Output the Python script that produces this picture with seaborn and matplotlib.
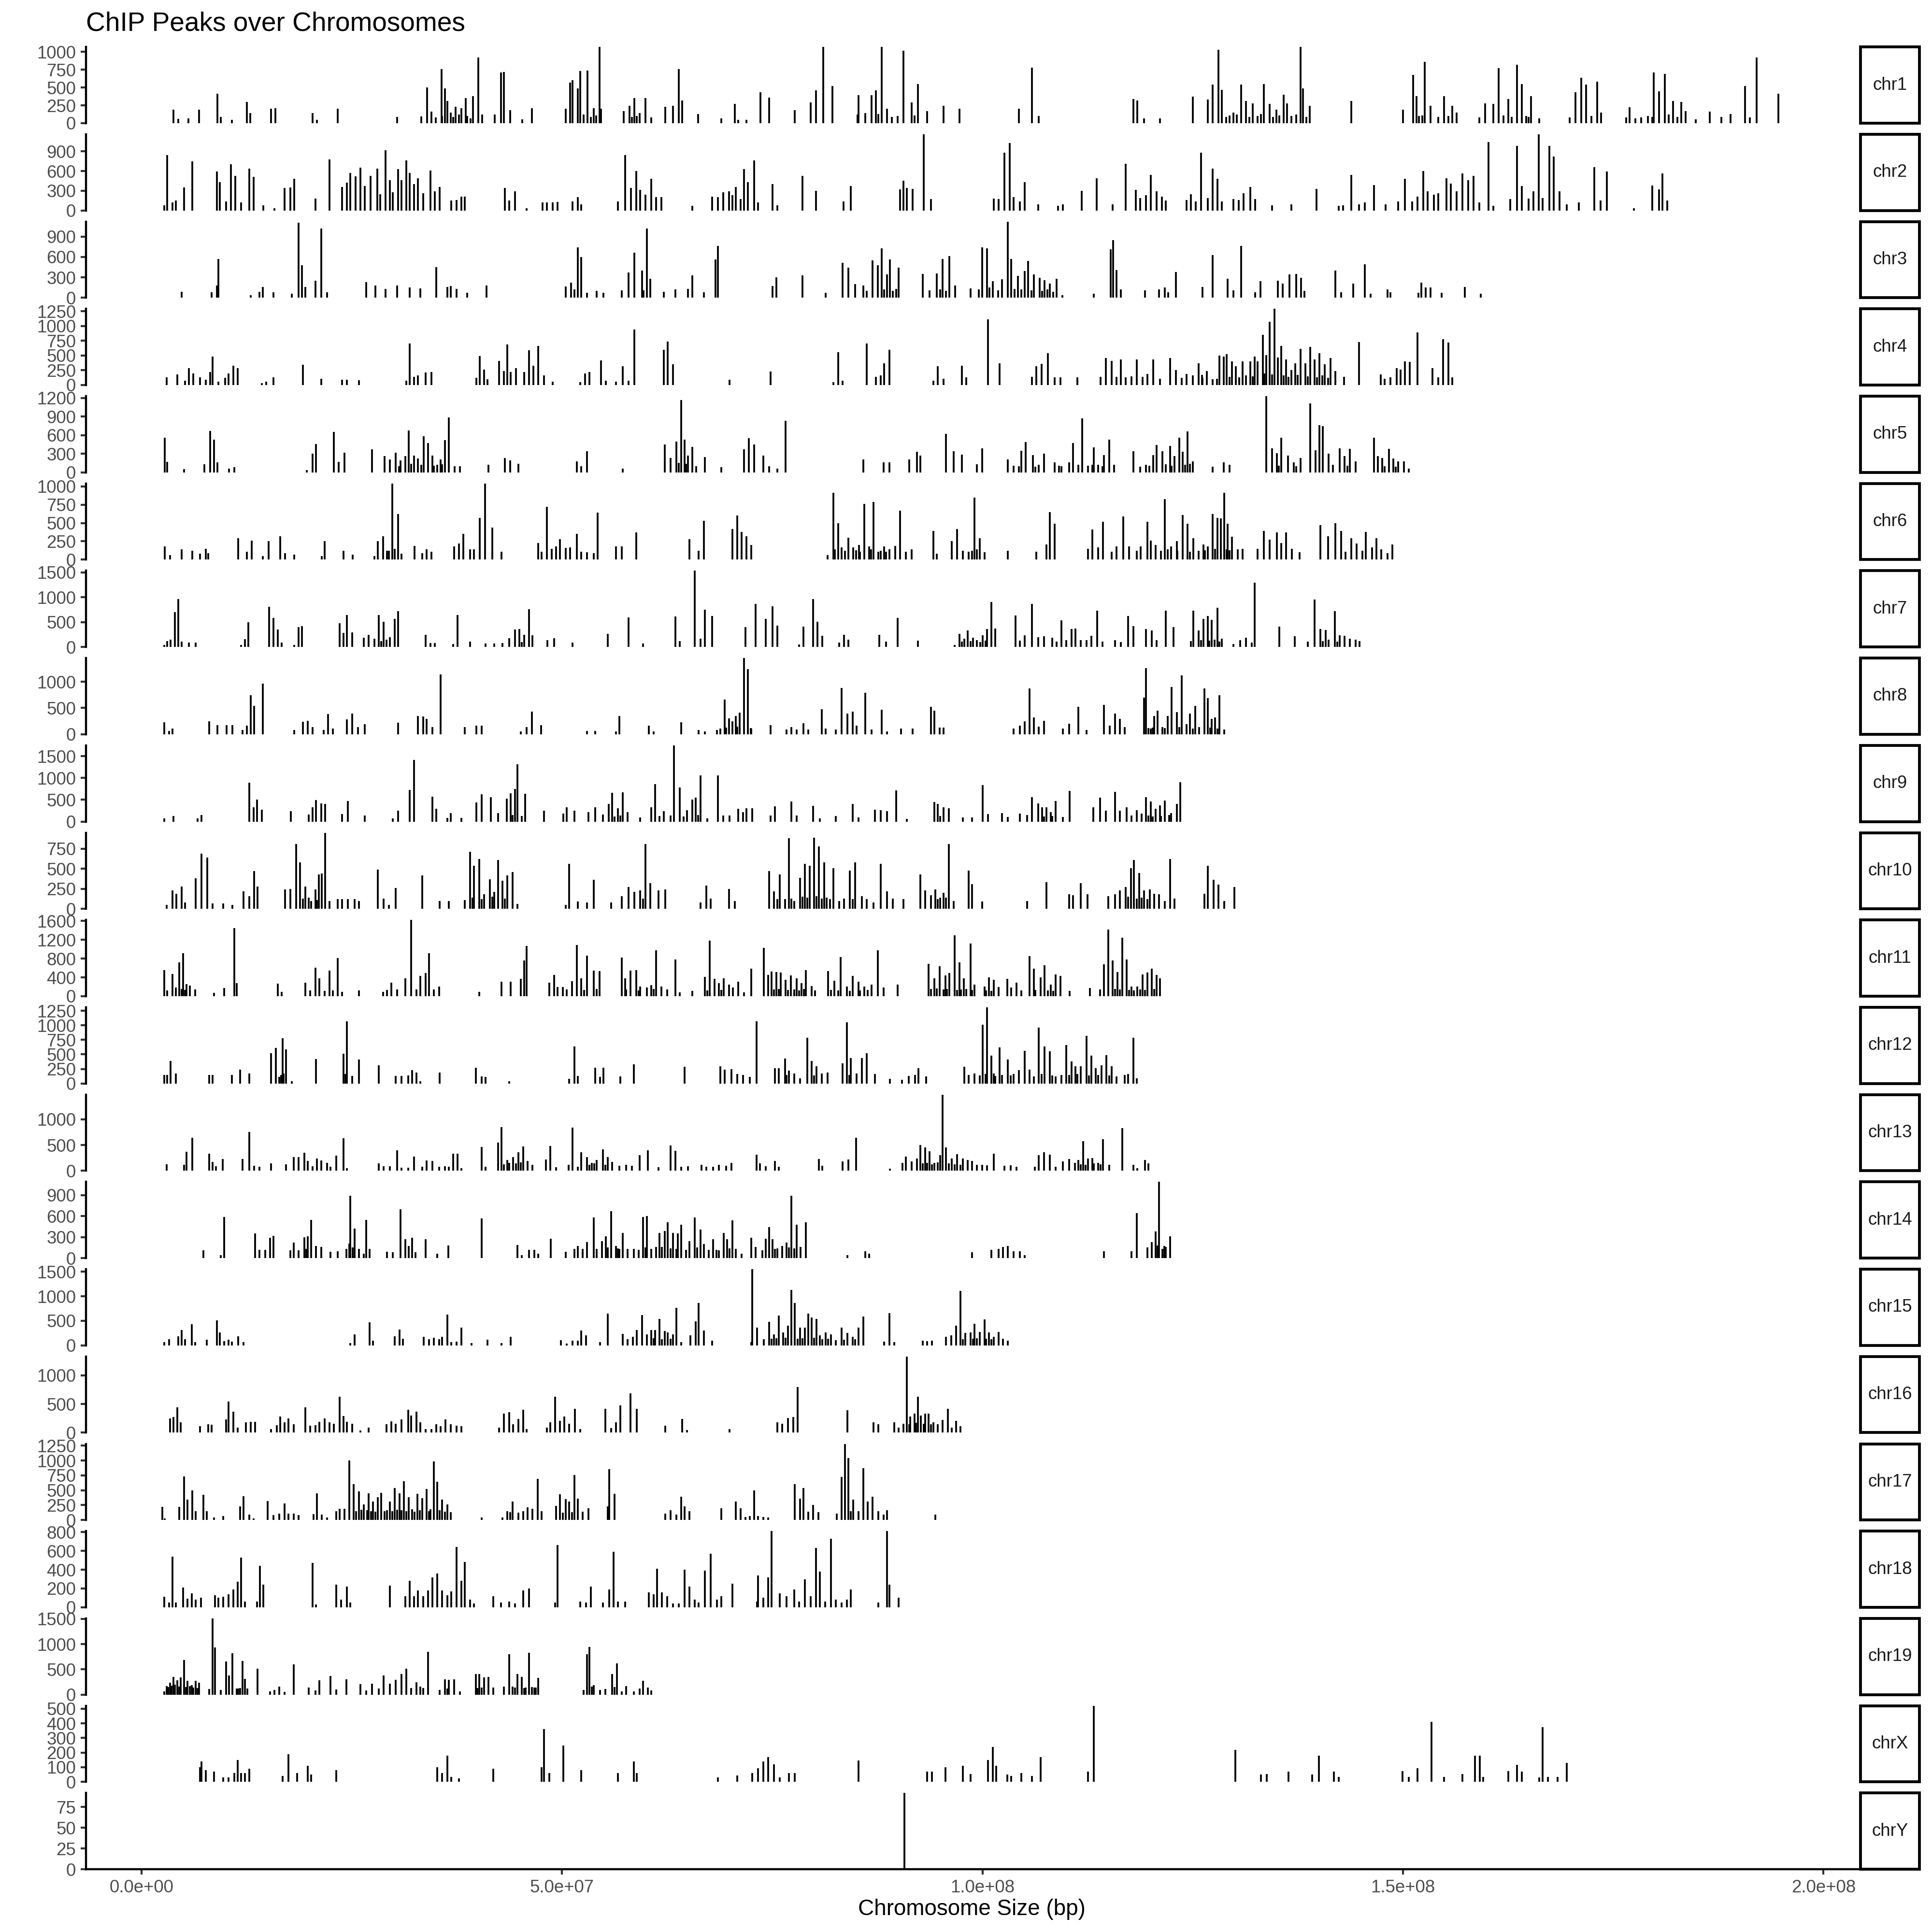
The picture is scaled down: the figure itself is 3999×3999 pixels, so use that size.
import seaborn as sns
import pandas as pd
import matplotlib.pyplot as plt
from matplotlib.patches import Rectangle

# peaks per chromosome: (position in Mb, peak score)
chr1_peaks = [(3.8, 190), (4.4, 60), (5.6, 70), (6.9, 190), (9.1, 410), (9.5, 90), (10.8, 45), (12.6, 300), (13.0, 140),
              (15.5, 200), (16.0, 210), (20.5, 140), (21.0, 45), (23.5, 200), (30.6, 90), (33.5, 95), (34.2, 500),
              (34.7, 160), (35.9, 760), (36.3, 490), (36.6, 310), (37.0, 150), (37.6, 230), (38.3, 210), (38.8, 350),
              (39.7, 380), (40.3, 920), (40.8, 120), (42.3, 120), (43.0, 710), (43.4, 720), (44.1, 180), (45.6, 55),
              (46.7, 210), (50.8, 200), (51.3, 570), (51.6, 600), (52.2, 490), (52.5, 730), (53.4, 740), (54.1, 210),
              (54.8, 1070), (55.0, 200), (57.7, 170), (58.4, 240), (59.0, 350), (59.6, 140), (60.3, 350), (61.0, 80),
              (62.7, 230), (63.6, 240), (64.3, 760), (64.7, 320), (66.6, 130), (69.4, 70), (71.0, 270), (71.4, 45),
              (72.4, 45), (74.1, 430), (75.1, 360), (78.2, 180), (80.1, 290), (80.7, 460), (81.6, 1070), (82.7, 520),
              (85.7, 120), (85.8, 390), (86.6, 140), (87.4, 390), (87.9, 460), (88.6, 1070), (89.2, 200), (91.2, 1020),
              (92.2, 290), (92.9, 550), (94.0, 170), (96.0, 240), (97.9, 200), (105.0, 200), (106.6, 780), (107.4, 100),
              (118.7, 340), (119.2, 320), (120.0, 70), (121.9, 70), (125.8, 370), (127.6, 330), (128.2, 540),
              (128.9, 1030), (129.3, 470), (130.7, 150), (131.6, 540), (132.2, 310), (133.0, 280), (134.3, 550),
              (135.0, 270), (135.8, 190), (136.7, 400), (137.1, 280), (138.7, 1070), (139.0, 490), (139.8, 240),
              (144.8, 310), (151.0, 190), (152.2, 680), (152.6, 380), (153.6, 860), (154.3, 240), (155.9, 380),
              (156.9, 240), (157.4, 150), (160.1, 80), (160.8, 280), (161.8, 270), (162.4, 770), (163.6, 340),
              (164.6, 820), (165.2, 550), (166.3, 380), (167.3, 70), (170.9, 80), (171.6, 430), (172.3, 640),
              (172.9, 540), (174.2, 580), (174.7, 150), (177.7, 80), (178.1, 220), (178.8, 70), (180.3, 100),
              (181.0, 710), (181.6, 450), (182.3, 690), (183.3, 310), (184.3, 300), (184.8, 170), (186.0, 50),
              (187.7, 160), (189.1, 90), (190.2, 130), (191.9, 520), (192.5, 80), (193.3, 920), (195.9, 410),
              (35.2, 80), (36.0, 100), (37.3, 90), (38.0, 120), (39.0, 100), (39.4, 70), (52.9, 120), (53.8, 90),
              (54.4, 110), (58.7, 90), (59.3, 100), (88.2, 130), (89.8, 90), (90.5, 100), (92.5, 110), (129.8, 90),
              (130.2, 110), (131.1, 120), (132.6, 90), (133.6, 100), (134.0, 130), (135.4, 90), (136.2, 110),
              (137.6, 100), (138.2, 120), (139.4, 90), (152.9, 100), (153.3, 110), (155.2, 90), (156.4, 100),
              (163.0, 110), (164.0, 90), (165.7, 100), (166.0, 90), (173.5, 100), (179.5, 80), (180.8, 90),
              (182.8, 120), (183.8, 90)]

chr2_peaks = [(2.7, 80), (3.1, 840), (3.7, 120), (4.1, 150), (5.1, 350), (6.1, 750), (9.0, 590), (9.4, 430), (10.1, 140),
              (10.7, 700), (11.2, 530), (11.9, 120), (12.9, 640), (13.4, 510), (14.6, 80), (15.9, 30), (17.1, 340),
              (17.8, 350), (18.3, 480), (20.8, 180), (22.5, 780), (24.0, 360), (24.6, 420), (25.0, 570), (25.6, 520),
              (26.2, 650), (26.7, 370), (27.4, 530), (28.2, 640), (28.6, 250), (29.2, 920), (29.7, 460), (30.1, 280),
              (30.7, 630), (31.1, 460), (31.7, 760), (32.1, 570), (32.6, 400), (33.1, 490), (33.7, 260), (34.6, 610),
              (35.1, 290), (35.7, 360), (37.1, 150), (37.7, 160), (38.3, 210), (38.7, 210), (43.5, 340), (44.0, 150),
              (44.7, 290), (46.1, 30), (48.0, 120), (48.5, 120), (49.2, 120), (49.8, 130), (51.6, 140), (52.2, 200),
              (52.6, 90), (57.0, 140), (57.9, 840), (58.6, 340), (59.2, 600), (59.7, 310), (60.3, 240), (61.0, 480),
              (61.6, 200), (62.2, 200), (65.9, 70), (68.3, 210), (69.0, 200), (69.6, 280), (70.3, 290), (70.7, 230),
              (71.1, 360), (71.7, 170), (72.1, 630), (72.6, 430), (73.3, 760), (73.8, 120), (75.5, 400), (76.1, 80),
              (79.1, 530), (80.7, 300), (84.0, 140), (84.9, 370), (90.8, 320), (91.2, 450), (91.6, 340), (92.3, 330),
              (93.6, 1160), (94.5, 170), (102.0, 180), (102.6, 170), (103.3, 880), (103.9, 1030), (104.4, 200),
              (105.1, 140), (105.7, 430), (107.3, 90), (109.7, 70), (110.3, 90), (112.5, 300), (114.3, 490),
              (116.2, 90), (117.8, 710), (119.0, 310), (119.5, 190), (120.2, 230), (120.8, 540), (121.5, 290),
              (122.1, 210), (122.6, 150), (125.1, 160), (125.6, 250), (126.2, 140), (126.8, 880), (127.6, 190),
              (128.2, 640), (128.8, 480), (129.3, 140), (130.7, 170), (131.3, 160), (131.9, 260), (132.7, 360),
              (133.3, 170), (135.3, 80), (137.6, 90), (140.6, 330), (143.3, 70), (143.8, 80), (144.8, 540),
              (145.7, 90), (146.4, 120), (147.5, 390), (148.9, 90), (150.4, 140), (151.2, 480), (152.1, 140),
              (152.7, 210), (153.4, 600), (153.9, 290), (154.7, 240), (155.2, 260), (156.2, 490), (156.7, 410),
              (157.4, 290), (158.1, 560), (158.8, 460), (159.4, 530), (160.1, 120), (161.2, 1040), (161.8, 70),
              (163.8, 170), (164.6, 980), (165.2, 370), (166.0, 180), (166.6, 290), (167.2, 1160), (167.7, 190),
              (168.5, 980), (169.0, 820), (169.7, 290), (170.6, 90), (172.0, 120), (173.9, 660), (174.6, 150),
              (175.4, 590), (178.6, 30), (180.8, 380), (181.6, 320), (182.0, 560), (182.6, 150)]

chr3_peaks = [(4.8, 85), (8.4, 80), (9.0, 180), (9.2, 570), (13.1, 35), (14.1, 90), (14.5, 160), (15.8, 80), (18.0, 60),
              (18.8, 1100), (19.2, 480), (19.6, 160), (20.8, 250), (21.5, 1020), (22.2, 80), (26.9, 230), (28.0, 180),
              (29.2, 130), (30.6, 180), (32.1, 150), (33.4, 140), (35.3, 450), (36.6, 160), (37.0, 170), (37.7, 130),
              (39.0, 70), (41.3, 180), (50.8, 165), (51.4, 220), (52.2, 740), (52.6, 600), (53.3, 75), (54.5, 100),
              (55.3, 70), (57.5, 110), (58.3, 370), (59.0, 660), (59.9, 400), (60.5, 1020), (60.9, 280), (62.5, 90),
              (63.9, 120), (65.4, 130), (65.9, 330), (67.3, 80), (68.7, 560), (69.0, 760), (75.5, 170), (76.0, 300),
              (79.1, 330), (81.9, 70), (83.9, 510), (84.6, 440), (85.4, 200), (86.4, 180), (87.5, 550), (88.1, 480),
              (88.6, 730), (89.2, 340), (89.6, 560), (90.6, 440), (93.5, 350), (94.3, 110), (95.2, 360), (95.9, 570),
              (96.7, 610), (97.4, 180), (99.2, 140), (100.6, 740), (101.2, 730), (101.9, 240), (103.0, 270),
              (103.7, 1120), (104.1, 570), (104.9, 320), (105.7, 390), (106.1, 540), (106.8, 340), (107.5, 290),
              (108.1, 260), (108.7, 210), (109.5, 280), (110.2, 40), (114.0, 60), (116.0, 710), (116.3, 850),
              (116.7, 410), (117.2, 120), (120.1, 110), (121.8, 120), (122.5, 150), (122.9, 80), (123.8, 380),
              (127.0, 160), (128.2, 630), (130.0, 280), (130.7, 110), (131.6, 760), (133.3, 80), (133.9, 240),
              (136.0, 250), (136.6, 210), (137.4, 340), (138.2, 350), (138.8, 290), (139.2, 100), (142.9, 400),
              (143.6, 80), (145.0, 210), (146.4, 490), (147.1, 60), (149.1, 120), (149.5, 80), (152.8, 70),
              (153.2, 220), (153.7, 150), (154.3, 150), (155.6, 70), (158.4, 160), (160.3, 60), (88.9, 120),
              (89.9, 100), (90.3, 130), (95.6, 120), (96.3, 100), (100.2, 120), (101.5, 150), (102.5, 110),
              (104.5, 130), (105.3, 120), (106.5, 110), (107.8, 100), (108.4, 120), (109.1, 90), (51.8, 120),
              (60.1, 110), (86.8, 100)]

chr4_peaks = [(3.0, 130), (4.3, 180), (5.2, 70), (5.7, 290), (6.2, 200), (7.0, 130), (7.7, 90), (8.2, 220), (8.5, 480),
              (9.2, 60), (10.0, 120), (10.4, 200), (11.0, 330), (11.5, 290), (14.4, 30), (14.9, 60), (15.8, 130),
              (19.3, 340), (21.5, 110), (24.0, 90), (24.6, 90), (26.0, 80), (31.7, 70), (32.1, 700), (32.6, 140),
              (33.1, 160), (34.0, 210), (34.7, 220), (40.1, 120), (40.5, 490), (41.0, 260), (41.4, 100), (42.8, 410),
              (43.4, 240), (43.8, 690), (44.2, 220), (44.8, 290), (45.8, 220), (46.4, 590), (46.9, 330), (47.5, 660),
              (48.2, 160), (49.2, 60), (52.5, 50), (53.1, 200), (53.6, 220), (55.0, 420), (55.6, 70), (56.8, 60),
              (57.6, 320), (58.3, 70), (59.0, 940), (62.5, 600), (63.0, 740), (63.6, 350), (70.4, 90), (75.3, 230),
              (82.8, 50), (83.4, 560), (83.9, 70), (86.8, 700), (87.9, 140), (88.5, 160), (88.9, 370), (89.5, 600),
              (94.8, 70), (95.3, 320), (96.0, 110), (98.2, 330), (98.7, 130), (101.3, 1110), (102.7, 370),
              (106.6, 140), (107.1, 320), (107.7, 360), (108.5, 540), (109.3, 130), (110.0, 130), (112.0, 130),
              (114.8, 140), (115.4, 460), (116.1, 410), (116.7, 140), (117.2, 430), (117.8, 130), (118.5, 150),
              (119.1, 430), (119.8, 140), (120.4, 190), (121.1, 430), (121.9, 110), (123.1, 460), (123.8, 250),
              (124.5, 120), (125.1, 190), (125.8, 160), (126.5, 370), (126.9, 170), (127.5, 240), (128.2, 100),
              (129.0, 500), (129.5, 480), (129.9, 520), (130.5, 400), (131.0, 320), (131.8, 400), (132.2, 160),
              (132.7, 400), (133.2, 480), (133.6, 400), (134.2, 850), (134.6, 510), (135.0, 1070), (135.6, 1290),
              (136.0, 470), (136.4, 660), (137.0, 430), (137.6, 250), (138.1, 370), (138.7, 610), (139.3, 370),
              (139.9, 650), (140.4, 430), (141.0, 540), (141.6, 350), (142.3, 460), (142.9, 240), (143.9, 140),
              (145.7, 730), (148.3, 180), (148.8, 110), (149.5, 130), (150.2, 290), (150.7, 260), (151.2, 400),
              (151.8, 390), (152.7, 890), (154.5, 290), (155.2, 130), (155.8, 780), (156.4, 720), (156.9, 130),
              (127.0, 120), (128.7, 110), (130.2, 140), (131.4, 130), (133.0, 150), (134.4, 200), (135.3, 180),
              (136.7, 160), (137.3, 140), (138.4, 170), (139.6, 150), (140.7, 130), (141.3, 160), (142.0, 120)]

chr5_peaks = [(2.8, 560), (3.1, 170), (5.1, 50), (7.5, 130), (8.2, 670), (8.7, 530), (9.1, 160), (10.5, 60), (11.1, 80),
              (19.8, 40), (20.5, 300), (20.9, 460), (23.0, 650), (23.6, 170), (24.3, 320), (27.6, 370), (29.1, 260),
              (29.7, 210), (30.4, 320), (31.0, 190), (31.6, 260), (32.0, 680), (32.6, 270), (33.1, 220), (33.8, 580),
              (34.3, 470), (34.8, 270), (35.4, 120), (35.8, 210), (36.3, 520), (36.8, 890), (37.5, 100), (38.1, 100),
              (41.5, 120), (43.5, 230), (44.1, 190), (45.1, 140), (52.1, 180), (52.6, 100), (53.3, 340), (57.6, 60),
              (62.6, 450), (63.3, 230), (64.0, 500), (64.6, 1170), (65.0, 530), (65.4, 270), (65.9, 410), (66.4, 100),
              (67.4, 250), (69.4, 80), (72.1, 370), (72.7, 550), (73.3, 450), (74.4, 270), (75.1, 100), (76.1, 60),
              (77.1, 830), (86.4, 210), (88.8, 160), (89.5, 160), (91.9, 210), (92.8, 330), (93.2, 270), (96.3, 620),
              (97.2, 340), (98.2, 290), (100.0, 130), (100.6, 390), (103.7, 210), (104.4, 110), (105.3, 350),
              (105.8, 490), (106.7, 280), (107.4, 120), (108.0, 300), (109.3, 160), (110.1, 100), (111.0, 160),
              (111.5, 470), (112.1, 120), (112.6, 870), (113.3, 110), (114.0, 400), (114.5, 120), (115.2, 280),
              (115.8, 530), (116.4, 120), (118.7, 340), (120.2, 120), (121.1, 280), (121.5, 440), (122.2, 340),
              (123.1, 430), (123.6, 260), (124.2, 560), (124.6, 330), (125.2, 660), (125.8, 180), (128.2, 90),
              (129.5, 160), (130.2, 120), (134.6, 1230), (135.3, 390), (135.9, 310), (136.4, 560), (137.2, 270),
              (137.9, 160), (138.7, 230), (139.9, 1110), (140.5, 360), (141.0, 760), (141.4, 750), (142.1, 300),
              (143.4, 390), (144.0, 260), (144.6, 380), (145.3, 180), (147.5, 560), (148.0, 260), (148.5, 230),
              (149.3, 380), (149.8, 220), (150.4, 180), (151.1, 180), (151.7, 60), (30.8, 100), (32.3, 140),
              (33.5, 120), (35.0, 110), (36.0, 130), (64.3, 150), (65.2, 140), (105.0, 100), (107.0, 90), (109.8, 110),
              (113.8, 120), (115.0, 100), (119.5, 90), (120.6, 110), (122.6, 130), (123.3, 110), (124.9, 120),
              (125.5, 140), (136.1, 110), (138.2, 100), (142.6, 120), (144.3, 110), (148.8, 100), (150.1, 90)]

chr6_peaks = [(2.8, 180), (3.4, 60), (4.8, 140), (6.1, 120), (7.0, 80), (7.7, 150), (8.0, 90), (11.6, 290), (12.6, 110),
              (13.2, 260), (14.5, 50), (15.2, 250), (16.6, 320), (17.2, 90), (18.3, 70), (21.6, 50), (21.9, 250),
              (24.2, 120), (25.3, 70), (27.9, 50), (28.3, 250), (28.9, 320), (29.4, 120), (30.0, 1040), (30.7, 620),
              (31.1, 80), (32.7, 190), (33.6, 90), (34.1, 140), (34.7, 110), (37.4, 180), (38.0, 220), (38.5, 350),
              (39.3, 140), (39.8, 140), (40.5, 570), (41.1, 1040), (42.0, 440), (43.1, 110), (47.5, 230), (47.9, 110),
              (48.5, 720), (49.1, 150), (49.6, 180), (50.1, 280), (50.8, 160), (51.3, 170), (52.1, 350), (52.6, 110),
              (53.3, 100), (54.1, 90), (54.6, 640), (56.8, 180), (57.5, 180), (59.2, 370), (65.6, 280), (66.7, 120),
              (67.3, 530), (70.7, 420), (71.3, 600), (71.8, 380), (72.4, 320), (73.0, 200), (82.1, 60), (82.8, 910),
              (83.4, 500), (83.8, 170), (84.6, 300), (85.2, 170), (85.9, 200), (86.5, 760), (87.1, 180), (87.6, 790),
              (88.2, 110), (88.9, 180), (89.5, 140), (90.2, 190), (90.8, 670), (91.5, 110), (92.2, 140), (94.8, 390),
              (95.2, 80), (97.0, 250), (97.6, 420), (98.3, 120), (99.0, 110), (99.7, 850), (100.3, 290), (100.9, 100),
              (103.7, 120), (107.1, 110), (108.3, 210), (108.7, 650), (109.3, 490), (113.3, 150), (113.8, 410),
              (114.5, 170), (115.1, 520), (116.1, 110), (116.7, 180), (117.5, 590), (118.2, 180), (119.1, 120),
              (119.6, 180), (120.4, 520), (120.8, 260), (121.4, 200), (122.0, 120), (122.5, 830), (123.2, 180),
              (123.9, 250), (124.6, 610), (125.2, 490), (125.9, 290), (126.5, 120), (127.1, 210), (127.6, 180),
              (128.2, 620), (128.8, 570), (129.2, 560), (129.6, 910), (130.0, 490), (130.5, 310), (131.2, 140),
              (131.8, 150), (133.6, 150), (134.3, 390), (135.0, 270), (135.9, 370), (136.4, 230), (137.0, 370),
              (137.7, 150), (138.6, 100), (141.1, 470), (142.0, 320), (142.9, 500), (143.6, 390), (144.1, 110),
              (144.8, 290), (145.4, 220), (146.1, 120), (146.5, 380), (147.3, 170), (147.8, 290), (148.4, 140),
              (149.1, 90), (149.7, 210), (29.6, 120), (30.3, 150), (83.0, 140), (84.2, 120), (85.5, 130), (86.0, 110),
              (87.3, 140), (88.5, 120), (89.1, 110), (99.4, 120), (100.0, 140), (122.8, 140), (124.0, 120),
              (125.5, 110), (127.3, 130), (128.5, 150), (129.9, 140), (130.2, 130)]

chr7_peaks = [(2.7, 40), (3.1, 120), (3.5, 150), (4.0, 700), (4.4, 960), (4.8, 110), (5.7, 90), (6.5, 90), (11.9, 40),
              (12.4, 160), (12.8, 500), (15.3, 810), (15.8, 580), (16.3, 350), (16.8, 90), (18.3, 40), (18.8, 400),
              (19.2, 420), (23.7, 480), (24.2, 280), (24.6, 640), (25.2, 290), (26.6, 190), (27.2, 240), (27.9, 170),
              (28.4, 640), (29.0, 510), (29.7, 200), (30.3, 560), (30.7, 720), (34.0, 240), (34.6, 80), (35.1, 80),
              (37.3, 60), (37.8, 640), (39.3, 110), (41.2, 70), (42.2, 70), (43.2, 80), (44.0, 180), (44.7, 350),
              (45.2, 360), (45.8, 240), (46.4, 760), (46.8, 230), (48.6, 140), (49.4, 180), (51.6, 90), (55.8, 260),
              (58.3, 590), (60.0, 70), (63.9, 610), (64.4, 120), (66.2, 1530), (66.9, 170), (67.4, 750), (68.3, 620),
              (72.3, 400), (73.5, 860), (74.7, 560), (75.5, 820), (76.1, 430), (78.7, 50), (79.2, 410), (80.4, 960),
              (80.9, 510), (81.5, 220), (83.5, 90), (84.1, 240), (84.6, 150), (88.3, 240), (89.1, 110), (90.5, 580),
              (92.9, 130), (97.3, 40), (97.9, 260), (98.5, 170), (98.9, 330), (99.5, 190), (100.0, 140), (100.7, 230),
              (101.2, 360), (101.7, 900), (102.2, 370), (104.6, 630), (105.1, 130), (105.7, 230), (106.6, 860),
              (107.3, 200), (108.0, 210), (109.0, 190), (109.5, 110), (110.1, 530), (110.7, 140), (111.3, 360),
              (111.8, 370), (112.4, 140), (113.1, 140), (113.7, 220), (114.4, 730), (115.0, 110), (116.5, 140),
              (117.2, 100), (118.1, 620), (118.7, 420), (120.2, 360), (120.9, 330), (121.5, 140), (122.6, 730),
              (123.5, 400), (125.9, 730), (126.5, 330), (127.1, 560), (127.6, 620), (128.1, 540), (128.8, 790),
              (129.3, 170), (130.7, 60), (131.5, 140), (132.2, 190), (132.9, 90), (133.2, 1290), (136.2, 410),
              (138.0, 210), (139.6, 110), (140.4, 950), (141.1, 360), (141.7, 340), (142.1, 150), (142.8, 720),
              (143.4, 230), (144.0, 220), (144.6, 170), (145.3, 150), (145.8, 120), (28.7, 120), (29.3, 150),
              (45.5, 100), (98.2, 110), (99.2, 120), (100.4, 100), (101.0, 130), (125.6, 120), (126.8, 140),
              (127.8, 130), (128.4, 150), (129.0, 110), (143.1, 110), (141.4, 120)]

chr8_peaks = [(2.7, 230), (3.3, 60), (3.7, 110), (8.1, 250), (9.1, 170), (10.2, 170), (10.9, 170), (12.1, 80), (12.6, 160),
              (13.1, 740), (13.5, 540), (14.5, 960), (18.3, 80), (19.3, 240), (19.9, 260), (20.5, 140), (21.8, 80),
              (22.3, 380), (22.9, 110), (24.6, 280), (25.2, 390), (25.9, 140), (26.7, 190), (30.7, 220), (33.1, 350),
              (33.7, 340), (34.1, 290), (34.8, 140), (35.8, 1140), (38.7, 140), (40.1, 160), (40.7, 160), (45.4, 50),
              (46.1, 140), (46.7, 430), (47.8, 170), (53.3, 60), (54.3, 60), (56.8, 50), (57.2, 350), (60.7, 160),
              (61.3, 50), (64.6, 230), (66.7, 80), (67.4, 50), (68.9, 80), (69.3, 110), (69.8, 660), (70.3, 300),
              (70.7, 250), (71.1, 350), (71.6, 410), (72.1, 1450), (72.6, 1240), (73.0, 110), (75.3, 170), (77.2, 90),
              (77.8, 140), (78.4, 90), (79.2, 210), (79.8, 90), (81.4, 480), (81.9, 110), (83.1, 90), (83.8, 880),
              (84.5, 390), (85.1, 430), (85.6, 160), (86.6, 790), (87.4, 90), (88.6, 470), (89.2, 50), (90.9, 110),
              (92.3, 110), (94.5, 520), (94.9, 450), (95.5, 130), (96.0, 130), (104.4, 110), (105.1, 160),
              (105.7, 250), (106.3, 870), (106.8, 320), (107.4, 150), (108.0, 260), (110.3, 110), (111.0, 200),
              (112.1, 520), (113.1, 80), (115.2, 560), (115.9, 160), (116.5, 390), (117.1, 290), (117.7, 140),
              (120.0, 700), (120.2, 1260), (120.8, 110), (121.2, 350), (121.6, 450), (122.2, 140), (122.8, 350),
              (123.3, 900), (123.9, 420), (124.5, 1120), (125.1, 190), (125.5, 390), (126.1, 540), (126.6, 140),
              (127.2, 870), (127.6, 690), (128.1, 290), (128.5, 320), (129.0, 740), (129.6, 90), (70.0, 130),
              (71.3, 150), (72.9, 120), (120.5, 120), (121.0, 130), (122.5, 120), (124.2, 140), (125.8, 110),
              (127.9, 130), (128.8, 110)]

chr9_peaks = [(2.7, 70), (3.8, 130), (6.7, 70), (7.2, 150), (12.9, 890), (13.4, 330), (13.8, 510), (14.4, 270), (17.9, 240),
              (20.0, 160), (20.5, 330), (20.9, 490), (21.5, 420), (22.0, 410), (24.0, 170), (24.7, 470), (26.7, 140),
              (30.1, 70), (30.7, 250), (32.1, 730), (32.6, 1420), (34.8, 570), (35.3, 290), (36.6, 80), (37.0, 200),
              (38.3, 80), (40.1, 440), (40.7, 630), (41.8, 560), (42.7, 190), (43.7, 530), (44.2, 650), (44.7, 750),
              (45.0, 1320), (45.9, 640), (48.2, 250), (50.5, 180), (50.9, 330), (51.8, 250), (53.5, 220), (54.3, 330),
              (55.2, 160), (55.9, 400), (56.3, 660), (57.0, 300), (57.6, 670), (58.2, 220), (59.7, 90), (61.0, 330),
              (61.5, 860), (62.5, 240), (63.3, 140), (63.7, 1750), (64.4, 780), (65.3, 260), (65.9, 510), (66.3, 550),
              (66.9, 1060), (67.7, 70), (69.0, 1060), (69.6, 140), (70.4, 140), (71.4, 290), (72.0, 220), (72.4, 310),
              (73.1, 300), (75.3, 140), (75.8, 350), (77.8, 460), (78.4, 140), (80.4, 360), (81.2, 70), (83.1, 130),
              (85.1, 400), (85.8, 90), (87.8, 270), (88.5, 260), (89.2, 240), (90.3, 720), (91.6, 60), (94.9, 450),
              (95.3, 410), (96.0, 330), (96.6, 310), (98.3, 90), (99.4, 100), (100.7, 840), (101.3, 170), (103.0, 190),
              (103.7, 110), (105.1, 180), (106.0, 150), (106.6, 560), (107.3, 420), (107.8, 330), (108.3, 330),
              (108.8, 220), (109.4, 470), (110.3, 110), (111.1, 700), (113.9, 330), (114.7, 550), (115.4, 250),
              (116.5, 680), (117.1, 250), (117.9, 330), (118.5, 140), (119.1, 260), (119.7, 180), (120.2, 560),
              (120.8, 460), (121.4, 290), (121.9, 370), (122.5, 480), (123.2, 200), (123.9, 400), (124.3, 910),
              (44.4, 150), (45.5, 130), (56.6, 120), (57.3, 140), (62.0, 130), (64.9, 120), (66.6, 150), (95.6, 130),
              (108.0, 120), (109.0, 130), (120.5, 140), (121.0, 120), (122.0, 130), (123.0, 150)]

chr10_peaks = [(3.0, 50), (3.7, 230), (4.2, 190), (4.8, 280), (5.2, 80), (6.5, 380), (7.2, 690), (7.9, 640), (8.5, 70),
               (9.8, 70), (10.9, 50), (12.2, 220), (12.9, 160), (13.5, 470), (13.9, 280), (17.2, 240), (17.8, 250),
               (18.5, 810), (19.0, 580), (19.6, 280), (20.3, 100), (20.8, 240), (21.2, 430), (21.6, 440), (22.0, 950),
               (22.5, 100), (23.5, 120), (24.0, 120), (24.7, 120), (25.5, 120), (26.0, 100), (28.3, 490), (29.0, 130),
               (29.6, 50), (30.4, 260), (33.6, 420), (35.7, 100), (36.8, 100), (38.7, 110), (39.3, 710), (39.8, 540),
               (40.4, 620), (41.0, 180), (41.7, 370), (42.2, 210), (42.7, 610), (43.2, 350), (43.8, 420), (44.4, 460),
               (45.0, 60), (50.8, 50), (51.2, 560), (52.2, 90), (53.3, 80), (54.1, 360), (56.2, 80), (57.5, 160),
               (58.3, 270), (59.0, 210), (59.7, 230), (60.3, 810), (60.9, 320), (61.9, 230), (62.7, 240), (66.9, 80),
               (67.6, 290), (68.1, 130), (70.3, 250), (71.0, 100), (75.1, 470), (75.7, 220), (76.4, 430), (77.0, 120),
               (77.5, 880), (78.1, 100), (78.8, 390), (79.4, 560), (80.0, 540), (80.5, 890), (81.1, 780), (81.7, 580),
               (82.4, 120), (82.8, 510), (83.5, 100), (84.1, 130), (84.8, 480), (85.4, 580), (86.2, 160), (86.8, 120),
               (87.6, 80), (88.5, 560), (89.2, 220), (89.9, 130), (91.2, 120), (93.2, 430), (93.8, 230), (94.5, 170),
               (95.0, 240), (95.6, 140), (96.0, 200), (96.6, 810), (97.2, 100), (99.0, 480), (99.4, 310), (100.6, 90),
               (106.0, 100), (108.3, 330), (111.0, 180), (111.5, 170), (112.4, 320), (113.2, 180), (115.7, 160),
               (116.5, 180), (117.1, 230), (117.8, 270), (118.4, 510), (118.8, 610), (119.4, 450), (120.0, 230),
               (120.7, 240), (121.2, 190), (121.8, 180), (122.5, 100), (123.1, 620), (123.6, 130), (127.2, 190),
               (127.6, 540), (128.3, 360), (128.9, 300), (129.6, 100), (130.8, 270), (19.3, 130), (20.0, 140),
               (21.0, 110), (39.6, 140), (40.7, 120), (42.0, 150), (43.5, 130), (60.0, 130), (76.1, 120), (77.8, 130),
               (79.1, 150), (79.7, 140), (80.8, 160), (81.4, 130), (82.0, 140), (85.1, 120), (95.3, 120), (96.3, 140),
               (118.1, 150), (119.1, 130), (119.7, 140), (120.4, 120)]

chr11_peaks = [(2.7, 550), (3.1, 120), (3.7, 470), (4.1, 180), (4.5, 720), (5.0, 910), (5.4, 260), (5.8, 230), (6.4, 140),
               (8.7, 70), (9.9, 170), (11.1, 1450), (11.4, 280), (16.3, 270), (16.8, 90), (19.6, 290), (20.2, 120),
               (20.8, 610), (21.3, 380), (21.9, 110), (22.5, 540), (22.9, 120), (23.5, 810), (24.0, 90), (26.0, 120),
               (28.9, 90), (29.4, 130), (29.9, 290), (30.6, 140), (31.6, 380), (32.3, 1620), (32.9, 140), (33.4, 430),
               (34.0, 490), (34.4, 910), (35.0, 140), (35.6, 210), (40.4, 90), (43.1, 310), (44.2, 310), (45.4, 370),
               (45.8, 760), (46.1, 1070), (48.8, 290), (49.4, 450), (49.8, 190), (50.4, 190), (50.9, 140), (51.5, 320),
               (52.1, 1090), (52.6, 380), (53.3, 860), (54.1, 540), (54.8, 530), (57.5, 820), (57.9, 380), (58.5, 540),
               (59.2, 550), (59.7, 210), (60.5, 180), (61.0, 240), (61.6, 980), (62.2, 210), (62.9, 140), (63.9, 780),
               (64.4, 80), (65.9, 110), (67.4, 410), (68.0, 1180), (68.6, 370), (69.1, 280), (69.7, 380), (70.3, 250),
               (70.8, 180), (71.4, 310), (72.1, 80), (73.0, 580), (74.5, 1030), (75.0, 450), (75.4, 520), (76.0, 510),
               (76.5, 500), (77.1, 350), (77.7, 440), (78.4, 380), (79.0, 280), (79.5, 550), (80.2, 220), (82.2, 530),
               (82.9, 330), (83.7, 830), (84.4, 210), (85.1, 430), (85.8, 310), (86.5, 210), (87.4, 250), (88.1, 980),
               (88.8, 180), (90.5, 250), (94.2, 690), (94.9, 380), (95.5, 640), (96.2, 440), (96.7, 490), (97.3, 1290),
               (97.9, 720), (98.4, 380), (99.2, 1120), (99.7, 250), (100.9, 210), (101.4, 400), (102.0, 350),
               (102.6, 190), (103.6, 370), (104.1, 180), (104.7, 290), (105.3, 120), (106.3, 850), (106.8, 590),
               (107.6, 400), (108.1, 660), (108.8, 250), (109.4, 460), (110.0, 430), (111.1, 110), (113.5, 170),
               (114.7, 140), (115.2, 680), (115.7, 1420), (116.2, 760), (116.8, 510), (117.4, 1240), (117.9, 780),
               (118.5, 210), (119.2, 210), (119.8, 460), (120.4, 500), (120.9, 580), (121.5, 450), (121.9, 380),
               (4.8, 150), (5.2, 130), (53.0, 130), (54.5, 150), (58.0, 140), (59.5, 120), (61.3, 150), (67.7, 120),
               (69.4, 130), (75.7, 140), (76.3, 150), (77.4, 130), (78.1, 140), (78.7, 120), (79.3, 150), (80.6, 120),
               (82.5, 130), (83.4, 120), (84.8, 110), (86.0, 120), (86.9, 130), (94.5, 150), (95.2, 160), (96.0, 140),
               (96.4, 150), (97.6, 130), (98.1, 140), (98.7, 150), (99.4, 130), (101.1, 120), (101.7, 110),
               (107.0, 130), (108.5, 120), (109.1, 110), (116.5, 150), (117.1, 140), (118.2, 130), (118.8, 120),
               (119.5, 140), (120.1, 130), (121.2, 150)]

chr12_peaks = [(2.7, 150), (3.1, 150), (3.5, 390), (4.1, 170), (8.1, 150), (8.5, 150), (10.8, 150), (11.8, 240), (12.9, 170),
               (15.5, 520), (16.1, 610), (16.5, 110), (16.9, 780), (17.3, 590), (18.0, 40), (20.9, 420), (24.2, 510),
               (24.6, 1070), (25.2, 130), (26.0, 410), (28.4, 310), (30.4, 130), (31.1, 130), (31.9, 140), (32.4, 230),
               (32.9, 190), (33.4, 40), (35.7, 190), (40.0, 270), (40.7, 120), (41.2, 110), (44.0, 40), (51.2, 80),
               (51.8, 640), (52.2, 130), (54.3, 270), (54.9, 110), (55.3, 270), (57.3, 120), (58.9, 330), (65.0, 290),
               (69.3, 300), (69.8, 240), (70.6, 250), (71.3, 160), (72.0, 150), (72.8, 110), (73.6, 1070), (75.8, 260),
               (76.3, 260), (77.0, 430), (77.5, 220), (78.1, 170), (78.8, 90), (79.7, 790), (80.2, 390), (80.8, 300),
               (81.4, 170), (82.1, 190), (83.9, 350), (84.4, 1050), (84.9, 440), (85.6, 170), (86.2, 440), (86.8, 520),
               (87.8, 160), (89.6, 80), (91.0, 60), (91.8, 130), (92.6, 150), (93.0, 260), (93.9, 120), (98.5, 290),
               (99.0, 150), (99.7, 170), (100.3, 140), (100.7, 1010), (101.2, 1310), (101.7, 480), (102.2, 130),
               (102.7, 620), (103.7, 410), (104.4, 160), (105.0, 230), (105.7, 560), (106.3, 240), (106.8, 120),
               (107.4, 960), (108.1, 640), (108.7, 550), (109.4, 120), (110.1, 150), (110.7, 660), (111.3, 380),
               (111.8, 300), (112.4, 300), (113.1, 820), (113.7, 480), (114.2, 260), (114.9, 310), (115.5, 490),
               (116.1, 300), (116.7, 120), (117.7, 150), (118.1, 160), (118.7, 790), (119.1, 90), (16.7, 150),
               (17.0, 170), (24.4, 160), (77.2, 150), (80.5, 140), (84.7, 150), (101.0, 160), (102.0, 170), (103.0, 150),
               (104.0, 140), (107.7, 160), (109.0, 140), (111.0, 150), (112.0, 160), (113.4, 140), (114.5, 150),
               (115.8, 140)]

chr13_peaks = [(3.0, 130), (5.1, 120), (5.4, 370), (6.1, 640), (8.1, 330), (8.5, 170), (8.9, 90), (9.7, 230), (12.1, 230),
               (12.9, 750), (13.5, 100), (14.1, 80), (15.5, 140), (17.3, 130), (18.2, 270), (18.8, 270), (19.5, 350),
               (19.9, 190), (20.5, 90), (21.0, 240), (21.5, 200), (22.2, 150), (22.6, 80), (23.3, 290), (24.2, 630),
               (24.6, 50), (28.4, 140), (29.0, 90), (29.7, 90), (30.6, 400), (31.1, 60), (31.9, 60), (32.6, 280),
               (33.6, 80), (34.1, 200), (34.8, 190), (35.6, 80), (36.3, 90), (36.8, 80), (37.3, 330), (37.8, 330),
               (38.3, 50), (40.7, 460), (41.2, 80), (42.7, 550), (43.1, 850), (43.8, 210), (44.5, 270), (45.1, 360),
               (45.7, 470), (46.2, 190), (46.8, 120), (48.4, 220), (48.9, 480), (49.6, 70), (51.1, 120), (51.6, 840),
               (52.2, 80), (52.6, 360), (53.3, 270), (53.9, 150), (54.5, 210), (55.2, 420), (55.8, 270), (56.3, 170),
               (57.2, 100), (58.0, 120), (58.7, 100), (59.6, 300), (60.6, 400), (61.9, 70), (63.3, 490), (63.9, 390),
               (64.6, 80), (65.4, 90), (67.0, 120), (67.6, 80), (68.4, 80), (69.1, 120), (70.0, 100), (70.6, 150),
               (73.6, 310), (74.0, 140), (74.7, 90), (75.8, 190), (76.3, 80), (81.1, 230), (81.5, 100), (83.9, 180),
               (84.6, 220), (85.5, 640), (89.6, 40), (91.1, 150), (91.5, 280), (92.2, 180), (92.8, 240), (93.2, 500),
               (93.8, 450), (94.3, 380), (94.9, 150), (95.6, 300), (95.9, 1480), (96.3, 450), (97.0, 240), (97.6, 320),
               (98.3, 240), (98.9, 210), (99.4, 190), (100.0, 120), (100.6, 120), (101.2, 110), (102.0, 330),
               (103.3, 100), (104.0, 110), (104.7, 80), (106.9, 80), (107.4, 300), (108.0, 360), (108.7, 310),
               (109.4, 80), (110.3, 180), (111.0, 230), (111.7, 150), (112.1, 210), (112.7, 580), (113.3, 240),
               (113.8, 250), (114.5, 150), (115.1, 610), (115.8, 120), (117.4, 830), (118.7, 120), (119.2, 50),
               (120.1, 210), (120.5, 140), (43.4, 130), (44.0, 150), (44.8, 140), (45.4, 160), (53.6, 120), (54.2, 140),
               (55.5, 120), (93.5, 140), (94.0, 150), (94.6, 130), (95.3, 160), (96.6, 140), (97.3, 130), (98.0, 120),
               (112.4, 130), (113.0, 120), (114.0, 140), (114.8, 130)]

chr14_peaks = [(7.4, 110), (9.5, 40), (9.9, 590), (13.6, 350), (14.1, 120), (14.8, 120), (15.4, 290), (15.8, 320), (17.8, 110),
               (18.2, 220), (18.8, 110), (19.5, 300), (19.9, 310), (20.3, 550), (20.9, 170), (21.5, 160), (22.6, 90),
               (23.5, 100), (24.5, 130), (24.9, 210), (25.0, 890), (25.5, 420), (26.0, 130), (26.6, 60), (26.9, 550),
               (27.3, 130), (29.4, 90), (30.1, 80), (31.0, 700), (31.6, 270), (32.0, 170), (32.4, 290), (32.8, 80),
               (34.0, 270), (35.4, 60), (36.7, 180), (40.7, 570), (45.0, 190), (45.5, 40), (46.4, 120), (47.0, 120),
               (47.5, 60), (49.0, 280), (50.8, 90), (51.8, 130), (52.2, 170), (52.8, 130), (53.3, 230), (54.1, 580),
               (54.5, 130), (55.1, 240), (55.6, 310), (56.2, 670), (56.8, 170), (57.2, 130), (57.6, 360), (58.2, 130),
               (58.9, 130), (59.5, 120), (60.0, 590), (60.5, 600), (61.0, 130), (61.6, 160), (62.0, 360), (62.6, 390),
               (63.0, 510), (63.6, 360), (64.2, 350), (64.6, 480), (65.2, 120), (65.6, 240), (66.2, 580), (66.9, 410),
               (67.3, 200), (67.9, 120), (68.4, 270), (69.1, 110), (69.7, 360), (70.1, 270), (70.7, 540), (71.1, 130),
               (71.8, 60), (73.0, 290), (73.5, 160), (74.3, 110), (74.7, 280), (75.1, 440), (75.5, 270), (76.1, 140),
               (76.7, 170), (77.2, 220), (77.8, 890), (78.4, 480), (78.9, 160), (79.5, 510), (84.5, 40), (86.6, 100),
               (87.1, 60), (99.4, 80), (101.7, 120), (102.6, 130), (103.1, 160), (103.7, 170), (104.4, 100),
               (105.1, 100), (105.7, 40), (115.2, 100), (118.5, 100), (119.1, 640), (120.4, 150), (120.9, 230),
               (121.4, 380), (121.8, 1090), (122.2, 130), (122.6, 160), (123.1, 310), (19.7, 130), (25.3, 150),
               (55.8, 150), (57.0, 140), (60.3, 150), (62.3, 160), (63.3, 140), (64.0, 130), (66.5, 150), (68.8, 120),
               (70.4, 140), (75.8, 130), (77.5, 150), (78.1, 140), (121.6, 180), (122.4, 170)]

chr15_peaks = [(2.7, 70), (3.3, 130), (4.4, 180), (4.8, 310), (5.2, 130), (6.0, 430), (6.4, 70), (7.8, 120), (9.0, 510),
               (9.4, 260), (9.9, 90), (10.4, 120), (10.8, 80), (11.6, 180), (12.2, 70), (25.0, 50), (25.5, 220),
               (27.3, 470), (27.7, 100), (30.3, 180), (30.9, 320), (31.3, 140), (33.8, 170), (34.4, 130), (35.0, 160),
               (35.6, 130), (36.0, 170), (36.6, 630), (37.1, 70), (37.7, 80), (38.3, 360), (39.5, 50), (41.4, 120),
               (43.1, 50), (44.2, 170), (50.2, 110), (50.9, 40), (51.6, 100), (52.2, 100), (52.6, 300), (53.2, 200),
               (54.9, 70), (55.8, 650), (57.6, 230), (58.2, 130), (58.8, 170), (59.3, 310), (59.9, 620), (60.5, 220),
               (61.0, 310), (61.5, 310), (62.0, 540), (62.6, 290), (63.0, 260), (63.6, 220), (64.0, 760), (64.6, 70),
               (65.7, 200), (66.3, 490), (66.7, 860), (67.3, 300), (68.3, 100), (73.0, 70), (73.1, 1550), (73.7, 360),
               (74.5, 130), (75.1, 480), (75.7, 220), (76.3, 610), (76.8, 260), (77.4, 400), (77.8, 1130), (78.2, 860),
               (78.8, 360), (79.4, 360), (79.8, 650), (80.2, 570), (80.8, 540), (81.2, 200), (81.9, 260), (82.5, 220),
               (83.1, 110), (83.8, 360), (84.5, 250), (85.1, 170), (85.8, 360), (86.4, 590), (88.9, 80), (89.5, 660),
               (90.1, 70), (93.5, 100), (94.0, 90), (94.6, 100), (96.3, 170), (96.9, 200), (97.5, 400), (98.0, 1110),
               (98.6, 250), (99.2, 260), (99.7, 440), (100.3, 270), (100.9, 530), (101.4, 260), (102.0, 170),
               (102.6, 270), (103.1, 140), (103.7, 100), (61.3, 150), (62.3, 130), (63.3, 140), (75.4, 140), (76.0, 150),
               (77.1, 160), (78.5, 140), (79.1, 150), (80.5, 160), (81.5, 130), (82.2, 140), (84.1, 120), (85.4, 130),
               (98.3, 130), (99.5, 140), (100.0, 150), (101.1, 140), (101.7, 130)]

chr16_peaks = [(3.4, 250), (3.8, 270), (4.3, 440), (4.7, 180), (7.0, 110), (8.0, 150), (8.4, 140), (10.1, 230), (10.4, 540),
               (11.0, 370), (11.5, 90), (12.5, 180), (13.1, 190), (13.6, 190), (15.5, 60), (16.2, 130), (16.6, 280),
               (17.1, 180), (17.6, 250), (18.2, 150), (19.6, 440), (20.2, 120), (20.8, 130), (21.3, 190), (21.9, 250),
               (22.5, 180), (23.0, 160), (23.7, 630), (24.2, 290), (24.6, 190), (25.2, 160), (26.2, 40), (27.2, 90),
               (29.3, 150), (29.9, 200), (30.4, 160), (31.1, 230), (31.9, 400), (32.3, 300), (32.9, 370), (33.4, 180),
               (34.0, 60), (34.7, 60), (35.3, 150), (35.8, 110), (36.4, 230), (37.0, 150), (37.7, 120), (38.3, 110),
               (42.8, 90), (43.4, 330), (44.0, 360), (44.5, 150), (45.1, 240), (45.7, 400), (46.1, 60), (48.5, 90),
               (48.9, 180), (49.5, 630), (50.1, 210), (50.6, 280), (51.2, 160), (51.9, 420), (52.5, 60), (55.5, 420),
               (56.2, 80), (56.8, 180), (57.3, 480), (58.5, 690), (59.3, 420), (62.7, 120), (64.7, 240), (65.3, 50),
               (70.4, 60), (76.1, 180), (76.7, 160), (77.4, 260), (78.0, 270), (78.5, 800), (84.5, 390), (87.6, 180),
               (88.2, 150), (90.1, 180), (90.6, 90), (91.2, 160), (91.6, 1330), (92.0, 280), (92.5, 330), (92.9, 630),
               (93.3, 300), (93.8, 330), (94.2, 330), (94.8, 180), (95.3, 150), (95.9, 220), (96.5, 420), (97.0, 90),
               (97.5, 210), (98.0, 110), (91.9, 150), (92.7, 170), (93.6, 160), (94.5, 150)]

chr17_peaks = [(2.5, 220), (2.8, 30), (4.5, 220), (5.1, 730), (5.5, 340), (6.1, 500), (6.5, 150), (7.4, 420), (7.8, 150),
               (8.7, 40), (9.8, 70), (11.8, 230), (12.2, 400), (12.9, 90), (13.4, 30), (15.1, 320), (15.8, 80),
               (16.5, 110), (17.1, 280), (17.6, 110), (18.2, 110), (18.8, 80), (20.6, 100), (21.0, 450), (21.6, 90),
               (22.2, 40), (23.3, 150), (23.7, 190), (24.3, 190), (24.9, 1000), (25.4, 600), (26.0, 480), (26.6, 260),
               (27.2, 450), (27.7, 310), (28.3, 380), (28.7, 460), (29.1, 150), (29.7, 310), (30.3, 540), (30.9, 450),
               (31.4, 650), (32.0, 380), (32.4, 180), (33.0, 440), (33.6, 370), (34.1, 520), (34.6, 180), (35.0, 980),
               (35.4, 640), (36.0, 340), (36.6, 260), (37.0, 130), (40.7, 40), (43.2, 40), (43.8, 150), (44.4, 310),
               (45.1, 120), (45.7, 150), (46.2, 210), (46.8, 190), (47.4, 690), (47.9, 150), (49.6, 240), (50.1, 430),
               (50.8, 350), (51.2, 310), (51.8, 760), (52.2, 360), (52.8, 140), (53.5, 200), (55.8, 230), (56.0, 850),
               (56.6, 440), (62.7, 110), (63.3, 160), (64.0, 90), (64.6, 390), (65.0, 230), (65.6, 150), (69.4, 200),
               (71.1, 310), (71.7, 200), (72.3, 50), (72.8, 70), (73.3, 500), (73.8, 70), (74.4, 50), (75.0, 40),
               (78.2, 600), (78.8, 360), (79.2, 540), (79.8, 140), (80.4, 250), (81.0, 130), (83.2, 110), (83.8, 720),
               (84.2, 1280), (84.6, 1040), (85.2, 340), (85.8, 150), (86.4, 870), (86.9, 310), (87.5, 390),
               (88.2, 150), (88.8, 90), (89.2, 160), (95.0, 90), (25.7, 150), (26.3, 170), (27.0, 160), (27.5, 150),
               (28.0, 140), (29.4, 160), (30.0, 150), (30.6, 170), (31.1, 160), (31.7, 150), (32.7, 140), (33.3, 160),
               (34.4, 150), (35.7, 160), (36.3, 140), (44.1, 130), (50.4, 120), (51.5, 130), (84.9, 150)]

chr18_peaks = [(2.7, 110), (3.3, 50), (3.7, 540), (4.1, 50), (5.0, 210), (5.5, 90), (6.0, 150), (6.5, 80), (7.1, 100),
               (8.8, 130), (9.2, 100), (9.8, 110), (10.4, 140), (11.0, 190), (11.5, 270), (11.9, 530), (12.4, 60),
               (13.8, 60), (14.2, 440), (14.6, 240), (20.5, 470), (20.9, 30), (23.3, 240), (23.9, 80), (24.6, 220),
               (25.0, 50), (29.7, 230), (31.6, 120), (32.1, 280), (32.6, 120), (33.1, 180), (33.7, 120), (34.3, 180),
               (34.8, 320), (35.4, 360), (36.0, 180), (36.6, 130), (37.1, 170), (37.7, 640), (38.3, 280), (38.7, 480),
               (39.3, 80), (39.8, 40), (42.1, 120), (43.0, 50), (44.0, 60), (44.7, 40), (45.7, 180), (46.4, 200),
               (49.5, 50), (49.8, 660), (52.5, 60), (53.2, 50), (53.8, 220), (55.2, 50), (56.0, 190), (56.5, 590),
               (57.0, 60), (57.9, 60), (60.7, 160), (61.3, 140), (61.7, 410), (62.3, 160), (62.9, 120), (63.6, 40),
               (64.3, 40), (65.0, 400), (65.6, 220), (66.2, 80), (66.7, 50), (67.4, 390), (68.1, 570), (68.9, 80),
               (69.4, 120), (70.7, 250), (73.7, 60), (73.8, 340), (74.4, 100), (75.0, 320), (75.4, 810), (76.4, 150),
               (77.2, 120), (78.1, 190), (78.7, 60), (79.4, 300), (80.1, 120), (80.7, 630), (81.2, 380), (81.8, 60),
               (82.5, 730), (83.1, 80), (83.8, 50), (84.4, 80), (84.9, 190), (88.2, 50), (89.2, 810), (89.5, 240),
               (90.6, 100)]

chr19_peaks = [(2.7, 60), (3.0, 170), (3.4, 240), (3.8, 350), (4.3, 280), (4.7, 340), (5.1, 690), (5.5, 270), (6.0, 190),
               (6.5, 270), (6.9, 240), (8.1, 110), (8.5, 1510), (8.8, 930), (9.5, 90), (10.1, 660), (10.5, 380),
               (10.9, 820), (11.4, 120), (11.6, 120), (12.1, 670), (12.4, 310), (13.9, 510), (15.4, 60), (15.9, 90),
               (16.5, 160), (17.1, 50), (18.2, 600), (20.0, 140), (20.8, 80), (21.3, 280), (22.6, 370), (23.3, 100),
               (24.5, 300), (26.2, 210), (26.9, 80), (27.6, 220), (28.4, 120), (29.0, 380), (29.7, 220), (30.4, 290),
               (31.1, 410), (31.7, 510), (32.3, 130), (32.9, 250), (33.4, 160), (34.3, 850), (35.7, 90), (36.3, 300),
               (36.8, 290), (37.4, 300), (38.1, 60), (40.0, 410), (40.4, 410), (41.0, 340), (41.5, 350), (42.1, 140),
               (43.4, 160), (44.0, 800), (44.4, 160), (45.0, 410), (45.5, 350), (46.0, 140), (46.4, 830), (47.0, 140),
               (47.5, 330), (52.9, 90), (53.3, 800), (53.6, 940), (54.1, 190), (54.9, 90), (55.5, 110), (56.3, 410),
               (56.9, 620), (57.5, 60), (58.0, 170), (58.9, 60), (59.6, 120), (60.0, 270), (60.6, 140), (61.0, 80),
               (3.2, 150), (3.6, 180), (4.0, 200), (4.5, 160), (5.3, 150), (5.8, 170), (6.2, 140), (6.7, 130),
               (11.8, 130), (12.7, 120), (33.7, 130), (36.6, 120), (40.2, 130), (40.7, 140), (44.7, 140), (45.8, 130),
               (46.7, 150), (47.2, 140), (53.9, 160), (56.6, 150)]

chrX_peaks = [(7.0, 100), (7.2, 140), (7.7, 80), (8.7, 70), (9.8, 30), (10.4, 30), (11.1, 60), (11.5, 150), (11.9, 60),
              (12.4, 60), (12.9, 90), (16.9, 40), (17.6, 190), (18.6, 60), (19.9, 110), (20.3, 50), (23.3, 80),
              (35.4, 100), (36.0, 60), (36.6, 180), (37.1, 35), (38.0, 25), (42.1, 90), (47.9, 100), (48.2, 360),
              (48.8, 60), (50.5, 250), (52.6, 80), (57.0, 60), (58.9, 140), (59.3, 60), (69.0, 30), (71.3, 45),
              (73.1, 60), (73.8, 95), (74.4, 140), (75.0, 170), (75.7, 120), (76.4, 30), (77.5, 60), (78.2, 60),
              (85.8, 145), (94.0, 70), (94.6, 70), (96.2, 100), (98.3, 110), (99.2, 55), (101.3, 150), (101.9, 240),
              (102.3, 110), (103.6, 50), (104.1, 40), (105.3, 60), (106.6, 40), (107.6, 170), (113.3, 70), (114.0, 520),
              (130.9, 220), (134.0, 50), (134.7, 55), (137.3, 70), (140.1, 50), (140.9, 180), (142.7, 70), (143.3, 35),
              (150.9, 75), (151.7, 35), (152.7, 95), (154.4, 410), (155.9, 35), (158.1, 55), (159.6, 180), (160.2, 180),
              (160.6, 35), (163.6, 75), (164.6, 115), (165.2, 70), (167.3, 30), (167.7, 375), (168.3, 35), (169.5, 35),
              (170.6, 130)]

chrY_peaks = [(91.3, 92)]

chroms = ["chr1", "chr2", "chr3", "chr4", "chr5", "chr6", "chr7", "chr8", "chr9", "chr10", "chr11",
          "chr12", "chr13", "chr14", "chr15", "chr16", "chr17", "chr18", "chr19", "chrX", "chrY"]

peak_lists = [chr1_peaks, chr2_peaks, chr3_peaks, chr4_peaks, chr5_peaks, chr6_peaks, chr7_peaks, chr8_peaks,
              chr9_peaks, chr10_peaks, chr11_peaks, chr12_peaks, chr13_peaks, chr14_peaks, chr15_peaks,
              chr16_peaks, chr17_peaks, chr18_peaks, chr19_peaks, chrX_peaks, chrY_peaks]

# y axis breaks per panel (as in the original)
y_breaks = [[0, 250, 500, 750, 1000], [0, 300, 600, 900], [0, 300, 600, 900], [0, 250, 500, 750, 1000, 1250],
            [0, 300, 600, 900, 1200], [0, 250, 500, 750, 1000], [0, 500, 1000, 1500], [0, 500, 1000],
            [0, 500, 1000, 1500], [0, 250, 500, 750], [0, 400, 800, 1200, 1600], [0, 250, 500, 750, 1000, 1250],
            [0, 500, 1000], [0, 300, 600, 900], [0, 500, 1000, 1500], [0, 500, 1000],
            [0, 250, 500, 750, 1000, 1250], [0, 200, 400, 600, 800], [0, 500, 1000, 1500],
            [0, 100, 200, 300, 400, 500], [0, 25, 50, 75]]

x_breaks = [0, 5e7, 1e8, 1.5e8, 2e8]
x_labels = ["0.0e+00", "5.0e+07", "1.0e+08", "1.5e+08", "2.0e+08"]

# positions were read on a slightly stretched crop; this brings them back to bp
read_scale = 0.9935e6

rows = []
for name, peaks in zip(chroms, peak_lists):
    for mb, score in peaks:
        rows.append((name, mb * read_scale, score))
df = pd.DataFrame(rows, columns=["chrom", "start", "score"])

sns.set_style("ticks")
plt.rcParams["font.family"] = ["Liberation Sans", "DejaVu Sans"]


def draw_peaks(data, color=None, **kws):
    ax = plt.gca()
    ax.vlines(data["start"], 0, data["score"], color="black", linewidth=0.9)


g = sns.FacetGrid(df, row="chrom", row_order=chroms, sharex=True, sharey=False,
                  height=13.33 / 21, aspect=21, despine=True)
g.map_dataframe(draw_peaks)
g.set_titles(template="")
g.set_axis_labels("", "")

fig = g.figure
fig.set_size_inches(13.33, 13.33)
fig.subplots_adjust(left=0.0445, right=0.9617, top=0.9757, bottom=0.0325, hspace=0.146)

n = len(chroms)
for i, (ax, name) in enumerate(zip(g.axes.flat, chroms)):
    top = df.loc[df["chrom"] == name, "score"].max()
    ax.set_ylim(0, top)
    ax.set_xlim(-6.6e6, 204.1e6)
    ax.set_yticks(y_breaks[i])
    ax.set_yticklabels([str(b) for b in y_breaks[i]])
    ax.tick_params(axis="y", labelsize=8.8, labelcolor="#4D4D4D", color="#333333",
                   length=2.75, width=1.0, pad=2.2)
    ax.spines["left"].set_linewidth(1.05)
    ax.spines["left"].set_color("black")
    ax.set_facecolor("white")
    if i < n - 1:
        ax.spines["bottom"].set_visible(False)
        ax.tick_params(axis="x", bottom=False, labelbottom=False)
    else:
        ax.spines["bottom"].set_linewidth(1.05)
        ax.spines["bottom"].set_color("black")
        ax.set_xticks(x_breaks)
        ax.set_xticklabels(x_labels)
        ax.tick_params(axis="x", labelsize=8.8, labelcolor="#4D4D4D", color="#333333",
                       length=2.75, width=1.0, pad=2.2, bottom=True, labelbottom=True)
    # facet strip on the right
    ax.add_artist(Rectangle((1.0014, 0), 0.0332, 1, transform=ax.transAxes, clip_on=False,
                            facecolor="white", edgecolor="black", linewidth=1.4))
    ax.text(1.018, 0.5, name, transform=ax.transAxes, ha="center", va="center",
            fontsize=8.8, color="#1A1A1A")

fig.text(0.0445, 0.9875, "ChIP Peaks over Chromosomes", ha="left", va="center", fontsize=13.2, color="black")
fig.text(0.503, 0.0118, "Chromosome Size (bp)", ha="center", va="center", fontsize=11, color="black")

fig.savefig("out.png", dpi=300, facecolor="white")
